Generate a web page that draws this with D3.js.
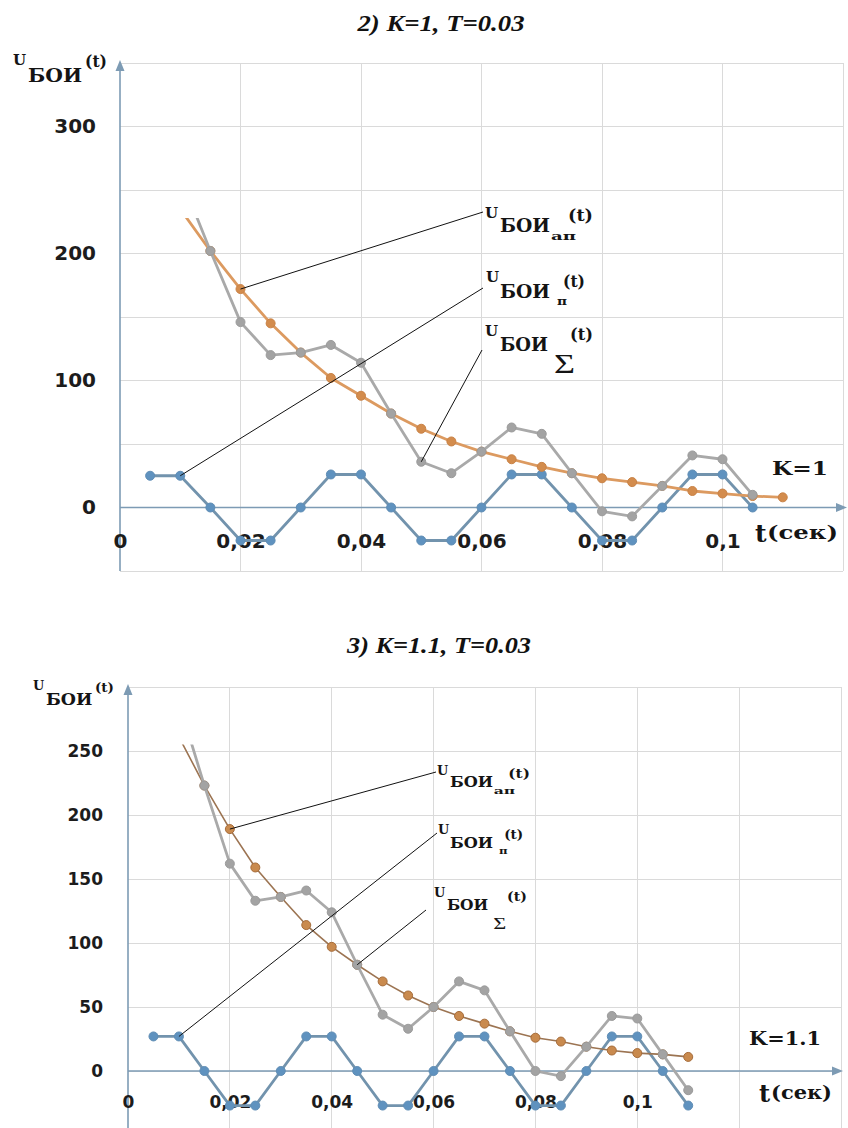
<!DOCTYPE html>
<html lang="ru">
<head>
<meta charset="UTF-8">
<title>U БОИ (t), K=1 и K=1.1</title>
<script src="https://cdnjs.cloudflare.com/ajax/libs/d3/7.8.5/d3.min.js"></script>
<style>
  body, html { margin: 0; padding: 0; background: #fff; }
  svg { display: block; background: #fff; }
  .grid line { stroke: #dadada; stroke-width: 1; shape-rendering: crispEdges; }
  .sym { font-weight: bold; fill: #141414; }
  .title { font-weight: bold; font-style: italic; fill: #111; }
</style>
</head>
<body>
<svg width="848" height="1128"></svg>
<script>
// time points, s
const times = [0.005, 0.01, 0.015, 0.02, 0.025, 0.03, 0.035, 0.04, 0.045, 0.05, 0.055,
               0.06, 0.065, 0.07, 0.075, 0.08, 0.085, 0.09, 0.095, 0.1, 0.105, 0.11];

// 2) K=1, T=0.03
const k1Periodic  = [25, 25, 0, -26, -26, 0, 26, 26, 0, -26, -26, 0, 26, 26, 0, -26, -26, 0, 26, 26, 0, null];
const k1Aperiodic = [null, 235, 202, 172, 145, 122, 102, 88, 74, 62, 52, 44, 38, 32, 27, 23, 20, 17, 13, 11, 9, 8];
const k1Sum       = [null, 261, 202, 146, 120, 122, 128, 114, 74, 36, 27, 44, 63, 58, 27, -3, -7, 17, 41, 38, 10, null];

// 3) K=1.1, T=0.03
const k11Periodic  = [27, 27, 0, -27, -27, 0, 27, 27, 0, -27, -27, 0, 27, 27, 0, -27, -27, 0, 27, 27, 0, -27];
const k11Aperiodic = [null, 261, 223, 189, 159, 136, 114, 97, 83, 70, 59, 50, 43, 37, 31, 26, 23, 19, 16, 14, 13, 11];
const k11Sum       = [null, 288, 223, 162, 133, 136, 141, 124, 83, 44, 33, 50, 70, 63, 31, 0, -4, 19, 43, 41, 13, -15];

// ticks and grid
const xTicks = [0, 0.02, 0.04, 0.06, 0.08, 0.1];
const k1XGrid = [0, 0.02, 0.04, 0.06, 0.08, 0.1, 0.12];
const k11XGrid = [0, 0.02, 0.04, 0.06, 0.08, 0.1, 0.12, 0.14];
const k1YTicks = [0, 100, 200, 300];
const k1YGrid = [-50, 0, 50, 100, 150, 200, 250, 300, 350];
const k11YTicks = [0, 50, 100, 150, 200, 250];
const k11YGrid = [-50, 0, 50, 100, 150, 200, 250, 300];

const titles = ["2)  K=1, T=0.03", "3) K=1.1, T=0.03"];
const kLabels = ["K=1", "K=1.1"];

const svg = d3.select("svg");
const axisColor = "#7d9bb4";
const symFont = '"DejaVu Serif", "Liberation Serif", serif';
const titleFont = '"Liberation Serif", "Times New Roman", serif';

// pieces of the U_БОИ labels (offsets from left of "U" / baseline of "БОИ")
const labelParts = {
  axis: { uUp: 17, bDx: 15, bW: 54, bSize: 19, tDx: 72, tDy: -15, tW: 22 },
  ap:   { uUp: 14, bDx: 15, bW: 50, bSize: 18, sub: "ап", sDx: 66, sDy: 8, sW: 25, sSize: 11, tDx: 83, tDy: -11, tW: 25 },
  p:    { uUp: 16, bDx: 14, bW: 50, bSize: 18, sub: "п", sDx: 71, sDy: 7, sW: 10, sSize: 11, tDx: 77, tDy: -11, tW: 22 },
  sum:  { uUp: 15, bDx: 15, bW: 48, bSize: 18, sub: "Σ", sDx: 69, sDy: 22, sW: 21, sSize: 28, tDx: 85, tDy: -11, tW: 23 }
};

function symText(g, x, y, size, str) {
  return g.append("text").attr("class", "sym")
    .attr("x", x).attr("y", y)
    .style("font-family", symFont).style("font-size", size + "px")
    .text(str);
}

function uLabel(g, x, y, s, kind, sigma) {
  const p = labelParts[kind];
  symText(g, x, y - p.uUp * s, 15 * s, "U");
  symText(g, x + p.bDx * s, y, p.bSize * s, "БОИ")
    .attr("textLength", p.bW * s).attr("lengthAdjust", "spacingAndGlyphs");
  if (p.sub) {
    const k = p.sub === "Σ" ? sigma : 1;
    const t = symText(g, x + p.sDx * s, y + p.sDy * s, p.sSize * s * k, p.sub)
      .attr("textLength", p.sW * s * k).attr("lengthAdjust", "spacingAndGlyphs");
    if (p.sub === "Σ") t.style("font-weight", "normal").style("font-family", titleFont);
  }
  symText(g, x + p.tDx * s, y + p.tDy * s, 16 * s, "(t)")
    .attr("textLength", p.tW * s).attr("lengthAdjust", "spacingAndGlyphs");
}

function drawChart(c, id) {
  const L = c.layout;
  const g = svg.append("g");
  const x = d3.scaleLinear().domain(c.xDomain).range(L.xRange);
  const y = d3.scaleLinear().domain(c.yDomain).range(L.yRange);

  // title
  g.append("text").attr("class", "title")
    .attr("x", L.title.x).attr("y", L.title.y).attr("text-anchor", "middle")
    .style("font-family", titleFont).style("font-size", "24px")
    .attr("textLength", L.title.w).attr("lengthAdjust", "spacingAndGlyphs")
    .text(c.title);

  // grid
  const grid = g.append("g").attr("class", "grid");
  grid.selectAll(".gy").data(c.yGrid).join("line")
    .attr("x1", x(0)).attr("x2", x(c.xDomain[1]))
    .attr("y1", d => y(d)).attr("y2", d => y(d));
  grid.selectAll(".gx").data(c.xGrid.slice(1)).join("line")
    .attr("x1", d => x(d)).attr("x2", d => x(d))
    .attr("y1", y(c.yDomain[0])).attr("y2", y(c.yDomain[1]));

  // axes with arrows
  g.append("line").attr("x1", x(0)).attr("x2", x(0))
    .attr("y1", y(c.yDomain[0])).attr("y2", L.arrowY + 6)
    .attr("stroke", axisColor).attr("stroke-width", 1.6);
  g.append("path")
    .attr("d", `M${x(0) - 4.5},${L.arrowY + 11}L${x(0)},${L.arrowY}L${x(0) + 4.5},${L.arrowY + 11}Z`)
    .attr("fill", axisColor);
  g.append("line").attr("x1", x(0)).attr("x2", L.arrowX - 6)
    .attr("y1", y(0)).attr("y2", y(0))
    .attr("stroke", axisColor).attr("stroke-width", 1.6);
  g.append("path")
    .attr("d", `M${L.arrowX - 11},${y(0) - 4.5}L${L.arrowX},${y(0)}L${L.arrowX - 11},${y(0) + 4.5}Z`)
    .attr("fill", axisColor);

  // tick labels
  const yAx = g.append("g").attr("transform", `translate(${x(0)},0)`)
    .call(d3.axisLeft(y).tickValues(c.yTicks).tickSize(0).tickPadding(L.yPad));
  const xAx = g.append("g").attr("transform", `translate(0,${y(0)})`)
    .call(d3.axisBottom(x).tickValues(xTicks).tickSize(0).tickPadding(L.xPad)
      .tickFormat(d => String(d).replace(".", ",")));
  [yAx, xAx].forEach(a => {
    a.select(".domain").remove();
    a.selectAll("text").attr("fill", "#1c1c1c")
      .style("font-family", "'DejaVu Sans', Verdana, sans-serif")
      .style("font-weight", "bold").style("font-size", L.tickSize + "px");
  });

  // series
  const clipId = "clip" + id;
  g.append("clipPath").attr("id", clipId).append("rect")
    .attr("x", x(0) - 10).attr("y", y(c.clipTop))
    .attr("width", L.xRange[1] - x(0) + 10).attr("height", L.yRange[0] - y(c.clipTop) + 10);
  const plot = g.append("g").attr("clip-path", `url(#${clipId})`);
  const line = d3.line().defined(d => d[1] != null).x(d => x(d[0])).y(d => y(d[1]));

  const series = [
    { vals: c.periodic, line: "#7293ad", w: 2.8, fill: "#5f92bf", stroke: "#5f8db5" },
    { vals: c.aperiodic, line: L.apLine, w: L.apW, fill: L.apFill, stroke: L.apStroke },
    { vals: c.sum, line: "#a9a9a9", w: 2.8, fill: "#a3a3a3", stroke: "#9b9b9b" }
  ];
  series.forEach(s => {
    const pts = times.map((t, i) => [t, s.vals[i]]);
    plot.append("path").datum(pts).attr("d", line)
      .attr("fill", "none").attr("stroke", s.line).attr("stroke-width", s.w)
      .attr("stroke-linejoin", "round");
    plot.selectAll(null).data(pts.filter(d => d[1] != null)).join("circle")
      .attr("cx", d => x(d[0])).attr("cy", d => y(d[1])).attr("r", 4.5)
      .attr("fill", s.fill).attr("stroke", s.stroke).attr("stroke-width", 1);
  });

  // leaders and labels
  const leaders = [
    { kind: "ap", vals: c.aperiodic, i: c.apPointer },
    { kind: "p", vals: c.periodic, i: 1 },
    { kind: "sum", vals: c.sum, i: c.sumPointer }
  ];
  leaders.forEach(d => {
    const a = L.ann[d.kind];
    g.append("line")
      .attr("x1", x(times[d.i])).attr("y1", y(d.vals[d.i]))
      .attr("x2", a.end[0]).attr("y2", a.end[1])
      .attr("stroke", "#111").attr("stroke-width", 1);
    uLabel(g, a.at[0], a.at[1], L.s, d.kind, L.sigma);
  });
  uLabel(g, L.axisLbl[0], L.axisLbl[1], L.s, "axis", 1);

  // K label and time unit
  symText(g, L.k.x, L.k.y, L.k.size, c.kLabel)
    .attr("textLength", L.k.w).attr("lengthAdjust", "spacingAndGlyphs");
  symText(g, L.unit.tx, L.unit.ty, L.unit.tSize, "t");
  symText(g, L.unit.px, L.unit.py, L.unit.pSize, "(сек)")
    .attr("textLength", L.unit.pw).attr("lengthAdjust", "spacingAndGlyphs");
}

drawChart({
  periodic: k1Periodic, aperiodic: k1Aperiodic, sum: k1Sum,
  xDomain: [0, 0.12], yDomain: [-50, 350],
  xGrid: k1XGrid, yGrid: k1YGrid, yTicks: k1YTicks,
  title: titles[0], kLabel: kLabels[0], clipTop: 228, apPointer: 3, sumPointer: 9,
  layout: {
    xRange: [120, 843], yRange: [571, 63], s: 1, sigma: 1, tickSize: 20, yPad: 24, xPad: 26,
    arrowY: 60, arrowX: 847,
    apLine: "#dc9a60", apW: 2.8, apFill: "#d38c4d", apStroke: "#c98246",
    title: { x: 441, y: 31, w: 167 },
    k: { x: 772, y: 475, w: 56, size: 18 },
    unit: { tx: 755, ty: 542, tSize: 25, px: 767, py: 539, pw: 71, pSize: 19 },
    axisLbl: [13, 82],
    ann: {
      ap: { end: [483, 212], at: [485, 232] },
      p: { end: [483, 288], at: [486, 298] },
      sum: { end: [482, 350], at: [485, 351] }
    }
  }
}, 1);

drawChart({
  periodic: k11Periodic, aperiodic: k11Aperiodic, sum: k11Sum,
  xDomain: [0, 0.14], yDomain: [-50, 300],
  xGrid: k11XGrid, yGrid: k11YGrid, yTicks: k11YTicks,
  title: titles[1], kLabel: kLabels[1], clipTop: 255, apPointer: 3, sumPointer: 8,
  layout: {
    xRange: [128, 841], yRange: [1135, 687], s: 0.86, sigma: 0.72, tickSize: 17, yPad: 25, xPad: 25,
    arrowY: 684, arrowX: 843,
    apLine: "#9c7452", apW: 1.6, apFill: "#c98a4e", apStroke: "#a66c3a",
    title: { x: 439, y: 653, w: 184 },
    k: { x: 749, y: 1045, w: 72, size: 18 },
    unit: { tx: 759, ty: 1102, tSize: 24, px: 771, py: 1099, pw: 61, pSize: 18 },
    axisLbl: [33, 705],
    ann: {
      ap: { end: [436, 772], at: [437, 787] },
      p: { end: [437, 833], at: [438, 848] },
      sum: { end: [426, 910], at: [434, 910] }
    }
  }
}, 2);
</script>
</body>
</html>
